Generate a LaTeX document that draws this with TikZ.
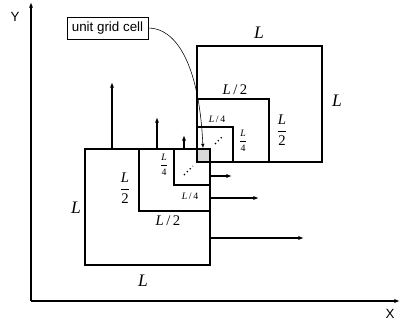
\documentclass[tikz,border=0pt]{standalone}
\usepackage{amsmath}
\usepackage{fontspec}
\setmainfont{Liberation Serif}
\newfontfamily\arialf{Liberation Sans}
\usetikzlibrary{arrows.meta}
\tikzset{
  quadro/.style={line width=1pt},
  freccia/.style={line width=0.9pt,-{Latex[length=4pt,width=3pt]}},
  asse/.style={line width=0.9pt,-{Latex[length=4pt,width=3pt]}},
  etgrande/.style={font=\fontsize{12.5}{14}\selectfont},
  etmedia/.style={font=\fontsize{10.5}{12}\selectfont},
  etpiccola/.style={font=\fontsize{7}{8}\selectfont},
  puntini/.style={dotted,line width=0.9pt}
}
\begin{document}
\begin{tikzpicture}[x=0.025cm,y=-0.025cm]
\useasboundingbox (0,0) rectangle (401,324);
% assi
\draw[asse] (31,301) -- (31,2);
\draw[asse] (31,301) -- (400,301);
\node[font=\arialf\fontsize{9.5}{11}\selectfont] at (15,17) {Y};
\node[font=\arialf\fontsize{9.5}{11}\selectfont] at (390,314) {X};
% quadrati in basso a sinistra
\draw[quadro] (85,149) rectangle (210,265);
\draw[quadro] (139,149) rectangle (210,211);
\draw[quadro] (174,149) rectangle (210,185);
\draw[puntini] (184,175) -- (193,166);
\node[etgrande] at (76,208) {$\textit{L}$};
\node[etgrande] at (143,281) {$\textit{L}$};
\node[etmedia] at (125,188) {$\dfrac{\textit{L}}{\textrm{2}}$};
\node[etmedia] at (168,221) {\textit{L}\,/\,2};
\node[etpiccola] at (164,165) {$\dfrac{\textit{L}}{\textrm{4}}$};
\node[etpiccola] at (190,196) {\textit{L}\,/\,4};
% frecce verso l'alto
\draw[freccia] (112,149) -- (112,82);
\draw[freccia] (157,149) -- (157,117);
\draw[freccia] (184,149) -- (184,135);
% frecce verso destra
\draw[freccia] (210,176) -- (232,176);
\draw[freccia] (210,198) -- (259,198);
\draw[freccia] (210,238) -- (304,238);
% quadrati in alto a destra
\draw[quadro] (197,46) rectangle (322,162);
\draw[quadro] (197,99) rectangle (269,162);
\draw[quadro] (197,127) rectangle (233,162);
\draw[puntini] (215,144) -- (223,136);
\node[etgrande] at (259,33) {$\textit{L}$};
\node[etgrande] at (337,101) {$\textit{L}$};
\node[etmedia] at (235,90) {\textit{L}\,/\,2};
\node[etmedia] at (282,130) {$\dfrac{\textit{L}}{\textrm{2}}$};
\node[etpiccola] at (217,119) {\textit{L}\,/\,4};
\node[etpiccola] at (243,141) {$\dfrac{\textit{L}}{\textrm{4}}$};
% cella unitaria
\filldraw[fill=black!15,line width=1.4pt] (197,149) rectangle (210,162);
\coordinate (cellaTop) at (203,148);
\node[draw,line width=0.5pt,inner xsep=3.5pt,minimum height=15.5pt,
  font=\arialf\fontsize{9.5}{11}\selectfont] (cella) at (107.5,28) {unit grid cell};
\draw[line width=0.4pt,-{Latex[length=3pt,width=2.5pt]}] (cella.east)
  .. controls (175,28) and (199,62) .. (cellaTop);
\end{tikzpicture}
\end{document}
